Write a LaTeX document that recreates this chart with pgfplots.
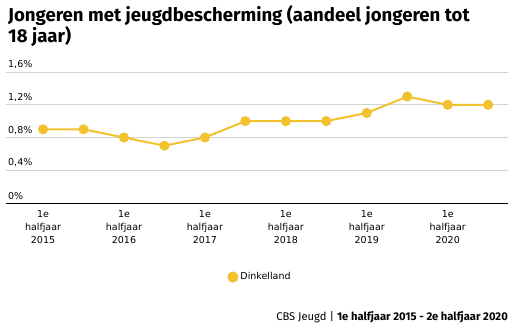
\documentclass[border=0pt]{standalone}
\usepackage{fontspec}
\setmainfont{DejaVu Sans}
\newfontfamily\titlefont{Fira Sans}
\usepackage{pgfplots}
\pgfplotsset{compat=1.18}
\definecolor{lijn}{RGB}{242,193,46}
\definecolor{rooster}{RGB}{210,210,210}
\begin{document}
\begin{tikzpicture}[x=1bp,y=1bp]
\useasboundingbox (0,0) rectangle (516,329);
\begin{axis}[
  at={(6bp,126bp)}, anchor=south west,
  scale only axis, width=502bp, height=131bp,
  xmin=-0.915, xmax=11.49, ymin=0, ymax=1.6,
  axis line style={draw=none},
  xtick pos=bottom, ytick pos=left,
  ymajorgrids, grid style={rooster, line width=1bp},
  ytick={0,0.4,0.8,1.2,1.6},
  yticklabels={0\%,{0,4\%},{0,8\%},{1,2\%},{1,6\%}},
  yticklabel style={anchor=south west, inner sep=0pt, xshift=2bp, yshift=3bp},
  xtick={0,2,4,6,8,10},
  xticklabels={{1e\\halfjaar\\2015},{1e\\halfjaar\\2016},{1e\\halfjaar\\2017},{1e\\halfjaar\\2018},{1e\\halfjaar\\2019},{1e\\halfjaar\\2020}},
  xticklabel style={align=center, font=\fontsize{9.5bp}{13bp}\selectfont, anchor=north, yshift=-4bp},
  major tick length=0pt,
  tick style={draw=none},
  ticklabel style={font=\fontsize{9.5bp}{13bp}\selectfont},
  legend style={draw=none, at={(0.506,-0.565)}, anchor=center, font=\fontsize{9.5bp}{12bp}\selectfont},
  legend image code/.code={\fill[lijn] (0bp,0bp) circle (4.5bp);},
  clip=false,
  after end axis/.code={\draw[black, line width=1bp] (rel axis cs:0,0) -- (rel axis cs:1,0);},
]
\addplot[lijn, line width=2bp, mark=*, mark size=4bp, mark options={fill=lijn, draw=lijn}]
coordinates {(0,0.9) (1,0.9) (2,0.8) (3,0.7) (4,0.8) (5,1.0) (6,1.0) (7,1.0) (8,1.1) (9,1.3) (10,1.2) (11,1.2)};
\addlegendentry{Dinkelland}
\end{axis}
\node[anchor=base west, inner sep=0pt, font=\titlefont\bfseries\fontsize{18.6bp}{21bp}\selectfont] at (8,308) {Jongeren met jeugdbescherming (aandeel jongeren tot};
\node[anchor=base west, inner sep=0pt, font=\titlefont\bfseries\fontsize{18.6bp}{21bp}\selectfont] at (8,287) {18 jaar)};
\node[anchor=base east, inner sep=0pt, font=\titlefont\fontsize{11.2bp}{12bp}\selectfont] at (508,9) {CBS Jeugd | \textbf{1e halfjaar 2015 - 2e halfjaar 2020}};
\end{tikzpicture}
\end{document}
